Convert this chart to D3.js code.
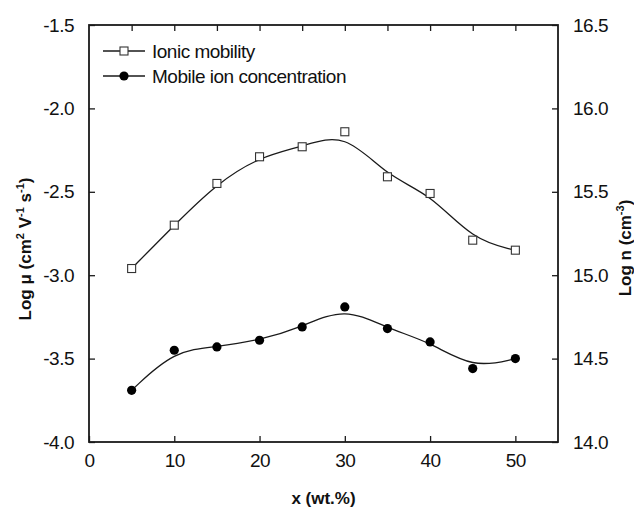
<!DOCTYPE html>
<html>
<head>
<meta charset="utf-8">
<script src="https://cdn.jsdelivr.net/npm/d3@7"></script>
<style>
  body { margin: 0; background: #fff; }
  text { font-family: "Liberation Sans", Arial, sans-serif; fill: #111; }
  .axis-title { font-weight: bold; font-size: 17px; }
</style>
</head>
<body>
<div id="chart"></div>
<script>
// data
var xValues = [5, 10, 15, 20, 25, 30, 35, 40, 45, 50];
var mobility = [-2.96, -2.70, -2.45, -2.29, -2.23, -2.14, -2.41, -2.51, -2.79, -2.85];
var concentration = [14.31, 14.55, 14.57, 14.61, 14.69, 14.81, 14.68, 14.60, 14.44, 14.50];
var seriesNames = ['Ionic mobility', 'Mobile ion concentration'];
var xTicks = [0, 10, 20, 30, 40, 50];
var xTopTicks = [5, 10, 15, 20, 25, 30, 35, 40, 45, 50];
var leftTicks = [-4.0, -3.5, -3.0, -2.5, -2.0, -1.5];
var rightTicks = [14.0, 14.5, 15.0, 15.5, 16.0, 16.5];

var margin = {top: 25, right: 76, bottom: 66, left: 89},
    width = 634 - margin.left - margin.right,
    height = 508 - margin.top - margin.bottom;

var svg = d3.select('#chart').append('svg')
    .attr('width', 634)
    .attr('height', 508);

var wrapper = svg.append('g')
    .attr('transform', 'translate(' + margin.left + ',' + margin.top + ')');

var xScale = d3.scaleLinear().domain([0, 55]).range([0, width]),
    yLeft = d3.scaleLinear().domain([-4, -1.5]).range([height, 0]),
    yRight = d3.scaleLinear().domain([14, 16.5]).range([height, 0]);

var ink = '#1a1a1a';

function styleAxis(g) {
  g.select('.domain').remove();
  g.selectAll('.tick line').attr('stroke', ink).attr('stroke-width', 1.3);
  g.selectAll('.tick text').style('font-size', '19px').style('letter-spacing', '-0.5px').attr('fill', ink);
}

// bottom axis, inward ticks
wrapper.append('g')
    .attr('transform', 'translate(0,' + height + ')')
    .call(d3.axisBottom(xScale).tickValues(xTicks).tickSizeInner(-6).tickSizeOuter(0).tickPadding(12)
      .tickFormat(d3.format('d')))
    .call(styleAxis);

// top axis, ticks only
wrapper.append('g')
    .call(d3.axisTop(xScale).tickValues(xTopTicks).tickSizeInner(-6).tickSizeOuter(0).tickFormat(''))
    .call(styleAxis);

wrapper.append('g')
    .call(d3.axisLeft(yLeft).tickValues(leftTicks).tickSizeInner(-6).tickSizeOuter(0).tickPadding(15)
      .tickFormat(d3.format('.1f')))
    .call(styleAxis);

wrapper.append('g')
    .attr('transform', 'translate(' + width + ',0)')
    .call(d3.axisRight(yRight).tickValues(rightTicks).tickSizeInner(-6).tickSizeOuter(0).tickPadding(15)
      .tickFormat(d3.format('.1f')))
    .call(styleAxis);

// frame
wrapper.append('rect')
    .attr('width', width)
    .attr('height', height)
    .attr('fill', 'none')
    .attr('stroke', ink)
    .attr('stroke-width', 1.8);

// hyphen instead of unicode minus, as in the figure
wrapper.selectAll('.tick text').text(function() { return d3.select(this).text().replace('\u2212', '-'); });

// smoothed curves
var lineLeft = d3.line()
    .curve(d3.curveBasis)
    .x(function(d, i) { return xScale(xValues[i]); })
    .y(function(d) { return yLeft(d); });

var lineRight = d3.line()
    .curve(d3.curveBasis)
    .x(function(d, i) { return xScale(xValues[i]); })
    .y(function(d) { return yRight(d); });

wrapper.append('path')
    .datum(mobility)
    .attr('d', lineLeft)
    .attr('fill', 'none')
    .attr('stroke', ink)
    .attr('stroke-width', 1.3);

wrapper.append('path')
    .datum(concentration)
    .attr('d', lineRight)
    .attr('fill', 'none')
    .attr('stroke', ink)
    .attr('stroke-width', 1.3);

// markers
wrapper.selectAll('.sq')
    .data(mobility)
  .enter().append('rect')
    .attr('class', 'sq')
    .attr('x', function(d, i) { return xScale(xValues[i]) - 4; })
    .attr('y', function(d) { return yLeft(d) - 4; })
    .attr('width', 8)
    .attr('height', 8)
    .attr('fill', '#fff')
    .attr('stroke', '#333')
    .attr('stroke-width', 1.1);

wrapper.selectAll('.dot')
    .data(concentration)
  .enter().append('circle')
    .attr('class', 'dot')
    .attr('cx', function(d, i) { return xScale(xValues[i]); })
    .attr('cy', function(d) { return yRight(d); })
    .attr('r', 4.6)
    .attr('fill', '#000');

// legend
var legend = svg.selectAll('.legend')
    .data(seriesNames)
  .enter().append('g')
    .attr('class', 'legend')
    .attr('transform', function(d, i) { return 'translate(103,' + (51 + i * 25) + ')'; });

legend.append('line')
    .attr('x1', 0).attr('x2', 42)
    .attr('stroke', ink).attr('stroke-width', 1.3);

legend.filter(function(d, i) { return i === 0; }).append('rect')
    .attr('x', 17).attr('y', -4).attr('width', 8).attr('height', 8)
    .attr('fill', '#fff').attr('stroke', '#333').attr('stroke-width', 1.1);

legend.filter(function(d, i) { return i === 1; }).append('circle')
    .attr('cx', 21).attr('r', 4.6).attr('fill', '#000');

legend.append('text')
    .attr('x', 49)
    .attr('dy', '0.35em')
    .style('font-size', '19px')
    .style('letter-spacing', '-0.5px')
    .text(function(d) { return d; });

// axis titles
svg.append('text')
    .attr('class', 'axis-title')
    .attr('x', margin.left + width / 2)
    .attr('y', 504)
    .style('text-anchor', 'middle')
    .text('x (wt.%)');

var leftTitle = svg.append('text')
    .attr('class', 'axis-title')
    .attr('transform', 'translate(31,249) rotate(-90)')
    .style('text-anchor', 'middle');
leftTitle.append('tspan').text('Log \u03bc (cm');
leftTitle.append('tspan').attr('dy', -7).style('font-size', '11px').text('2');
leftTitle.append('tspan').attr('dy', 7).text(' V');
leftTitle.append('tspan').attr('dy', -7).style('font-size', '11px').text('-1');
leftTitle.append('tspan').attr('dy', 7).text(' s');
leftTitle.append('tspan').attr('dy', -7).style('font-size', '11px').text('-1');
leftTitle.append('tspan').attr('dy', 7).text(')');

var rightTitle = svg.append('text')
    .attr('class', 'axis-title')
    .attr('transform', 'translate(631,248) rotate(-90)')
    .style('text-anchor', 'middle');
rightTitle.append('tspan').text('Log n (cm');
rightTitle.append('tspan').attr('dy', -7).style('font-size', '11px').text('-3');
rightTitle.append('tspan').attr('dy', 7).text(')');
</script>
</body>
</html>
